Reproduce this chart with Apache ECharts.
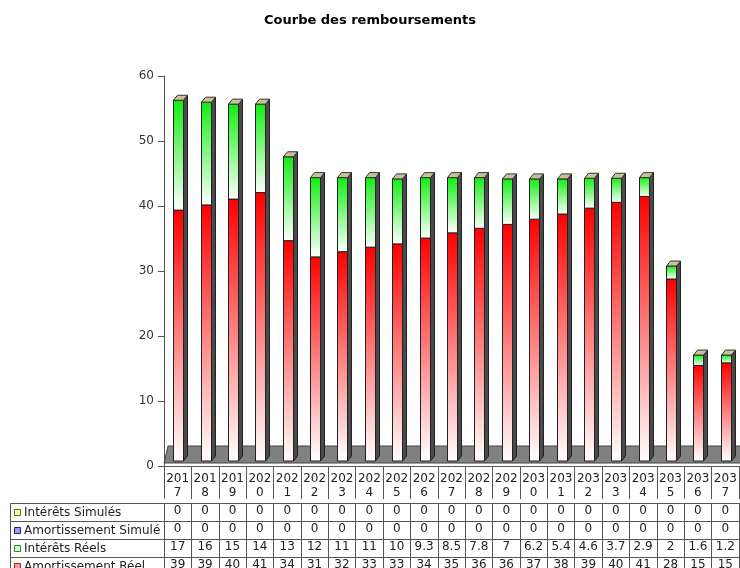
<!DOCTYPE html>
<html>
<head>
<meta charset="utf-8">
<script src="https://cdn.jsdelivr.net/npm/echarts@6/dist/echarts.min.js"></script>
<style>
  html, body { margin: 0; background: #fff; }
  #chart { width: 740px; height: 568px; }
</style>
</head>
<body>
<div id="chart"></div>
<script>
"use strict";

// ---- data ----
const YEARS = ["2017", "2018", "2019", "2020", "2021", "2022", "2023", "2024", "2025", "2026", "2027",
               "2028", "2029", "2030", "2031", "2032", "2033", "2034", "2035", "2036", "2037"];
const INTERETS_SIMULES = [0, 0, 0, 0, 0, 0, 0, 0, 0, 0, 0, 0, 0, 0, 0, 0, 0, 0, 0, 0, 0];
const AMORT_SIMULE     = [0, 0, 0, 0, 0, 0, 0, 0, 0, 0, 0, 0, 0, 0, 0, 0, 0, 0, 0, 0, 0];
const INTERETS_REELS   = [16.9, 15.8, 14.6, 13.6, 12.9, 12.2, 11.4, 10.7, 10.0, 9.3, 8.5,
                          7.8, 7.0, 6.2, 5.4, 4.6, 3.7, 2.9, 2.0, 1.6, 1.2];
const AMORT_REEL       = [38.6, 39.4, 40.3, 41.3, 33.9, 31.4, 32.2, 32.9, 33.4, 34.3, 35.1,
                          35.8, 36.4, 37.2, 38.0, 38.9, 39.8, 40.7, 28.0, 14.7, 15.1];
const ROW_NAMES = ["Intérêts Simulés", "Amortissement Simulé", "Intérêts Réels", "Amortissement Réel"];
const ROW_VALUES = [INTERETS_SIMULES, AMORT_SIMULE, INTERETS_REELS, AMORT_REEL];
const Y_MAX = 60, Y_STEP = 10;

// ---- look ----
const FONT = "'DejaVu Sans', Verdana, sans-serif";
const BORDER = "#555";
const TEXT = "#222";
const SWATCH = [["#ffff99", "#66662a"], ["#9999ff", "#22226a"], ["#ccffcc", "#2a8a2a"], ["#ff9999", "#b02020"]];
const GRID = { left: 164, right: 1, top: 76, bottom: 102, outerBoundsMode: "none", containLabel: false };
const HEAD_H = 33, ROW_H = 18, TABLE_GAP = 4;
const LABEL_LEFT = 10;
const FRONT_W = 10, DEPTH_X = 4, DEPTH_Y = 5, LIFT = 5;

const fmt = (v) => String(Number(v.toPrecision(2)));

const lin = (c0, c1) => new echarts.graphic.LinearGradient(0, 0, 0, 1,
  [{ offset: 0, color: c0 }, { offset: 1, color: c1 }]);

function renderFloor(params, api) {
  const cs = params.coordSys;
  const y0 = api.coord([0, 0])[1];
  const left = cs.x, right = cs.x + cs.width + 2;
  return {
    type: "polygon",
    shape: { points: [[left, y0 - 3], [left + DEPTH_X, y0 - 20], [right, y0 - 20], [right, y0 - 3]] },
    style: { fill: "#808080", stroke: "#444", lineWidth: 1 },
  };
}

function renderBar(params, api) {
  const i = api.value(0), a = api.value(1), t = api.value(2);
  const cx = api.coord([i, 0])[0];
  const yB = api.coord([i, 0])[1] - LIFT;
  const yA = api.coord([i, a])[1] - LIFT;
  const yT = api.coord([i, a + t])[1] - LIFT;
  const x0 = Math.round(cx - 4.5) + 0.5, x1 = x0 + FRONT_W;
  return {
    type: "group",
    children: [
      { type: "polygon",
        shape: { points: [[x1, yB], [x1, yT], [x1 + DEPTH_X, yT - DEPTH_Y], [x1 + DEPTH_X, yB - DEPTH_Y]] },
        style: { fill: "#4a4a4a", stroke: "#222", lineWidth: 1 } },
      { type: "rect", shape: { x: x0, y: yA, width: FRONT_W, height: yB - yA },
        style: { fill: lin("#ff0000", "#ffffff"), stroke: "#222", lineWidth: 1 } },
      { type: "rect", shape: { x: x0, y: yT, width: FRONT_W, height: yA - yT },
        style: { fill: lin("#11ee11", "#ffffff"), stroke: "#222", lineWidth: 1 } },
      { type: "polygon",
        shape: { points: [[x0, yT], [x0 + DEPTH_X, yT - DEPTH_Y], [x1 + DEPTH_X, yT - DEPTH_Y], [x1, yT]] },
        style: { fill: "#c9c197", stroke: "#333", lineWidth: 1 } },
    ],
  };
}

// table: one category x-axis per row, stacked below the grid
const tableAxis = (offset, tickLen, formatter, extraLabel) => ({
  type: "category",
  data: YEARS,
  position: "bottom",
  offset,
  axisLine: { show: true, lineStyle: { color: BORDER } },
  axisTick: { show: true, interval: 0, length: tickLen, lineStyle: { color: BORDER } },
  axisLabel: Object.assign({ interval: 0, margin: 2, formatter, color: TEXT, fontFamily: FONT, fontSize: 12 }, extraLabel || {}),
  splitLine: { show: false },
});

const xAxes = [tableAxis(TABLE_GAP, HEAD_H, (y) => y.slice(0, 3) + "\n" + y.slice(3), { lineHeight: 14 })];
ROW_VALUES.forEach((row, k) => {
  xAxes.push(tableAxis(TABLE_GAP + HEAD_H + k * ROW_H, ROW_H, (v, idx) => fmt(row[idx])));
});

// left label column of the table
const chartH = 568;
const tableTop = chartH - GRID.bottom + TABLE_GAP + HEAD_H;
const labelW = GRID.left - LABEL_LEFT;
const labelCells = [];
ROW_NAMES.forEach((name, k) => {
  const y = tableTop + k * ROW_H;
  labelCells.push(
    { type: "rect", shape: { x: LABEL_LEFT + 0.5, y: y + 0.5, width: labelW, height: ROW_H },
      style: { fill: "#fff", stroke: BORDER, lineWidth: 1 } },
    { type: "rect", shape: { x: LABEL_LEFT + 4.5, y: y + 6.5, width: 6, height: 6 },
      style: { fill: SWATCH[k][0], stroke: SWATCH[k][1], lineWidth: 1 } },
    { type: "text", x: LABEL_LEFT + 14, y: y + ROW_H / 2 + 1,
      style: { text: name, fill: TEXT, font: "12px " + FONT, verticalAlign: "middle" } }
  );
});

const chart = echarts.init(document.getElementById("chart"), null, { renderer: "canvas" });
chart.setOption({
  animation: false,
  backgroundColor: "#fff",
  title: {
    text: "Courbe des remboursements",
    left: "center", top: 9,
    textStyle: { fontFamily: FONT, fontSize: 13, fontWeight: "bold", color: "#000" },
  },
  grid: GRID,
  xAxis: xAxes,
  yAxis: {
    type: "value", min: 0, max: Y_MAX, interval: Y_STEP,
    axisLine: { show: true, lineStyle: { color: "#555" } },
    axisTick: { show: true, length: 6, lineStyle: { color: "#555" } },
    axisLabel: { color: "#333", fontFamily: FONT, fontSize: 12, margin: 10 },
    splitLine: { show: false },
  },
  graphic: labelCells,
  series: [
    { type: "custom", name: "floor", z: 1, xAxisIndex: 0, yAxisIndex: 0,
      renderItem: renderFloor, data: [[0, 0]], encode: { x: 0, y: 1 }, silent: true },
    { type: "custom", name: "Réel", z: 2, xAxisIndex: 0, yAxisIndex: 0,
      renderItem: renderBar,
      data: YEARS.map((y, i) => [i, AMORT_REEL[i], INTERETS_REELS[i]]),
      encode: { x: 0, y: 1 } },
  ],
});
</script>
</body>
</html>
